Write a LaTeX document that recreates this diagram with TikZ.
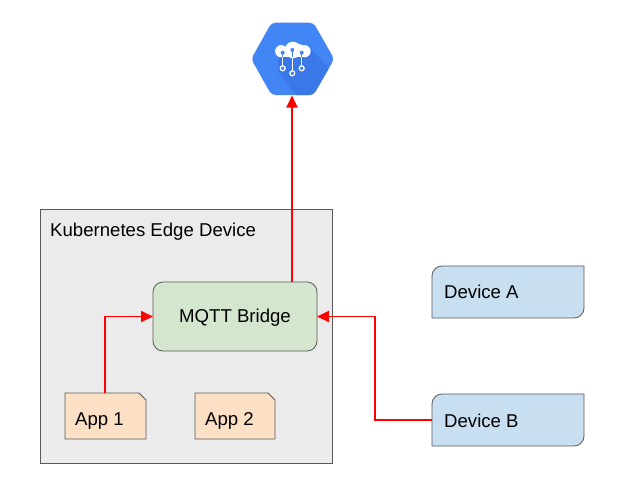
\documentclass[tikz,border=0pt]{standalone}
\usepackage{fontspec}
\setmainfont{Liberation Sans}
\usetikzlibrary{arrows.meta}
\definecolor{outerfill}{HTML}{EBEBEB}
\definecolor{edgegray}{HTML}{595959}
\definecolor{bridgefill}{HTML}{D5E6CF}
\definecolor{appfill}{HTML}{FCE0C5}
\definecolor{devfill}{HTML}{C8DEF1}
\definecolor{gblue}{HTML}{4285F4}
\definecolor{gshade}{HTML}{3B78E7}
\tikzset{
  x=1pt,y=-1pt,
  box/.style={inner sep=0pt,outer sep=0pt,minimum width=#1,anchor=north west},
  shapeline/.style={draw=edgegray,line width=0.8pt},
  lbl/.style={font=\fontsize{18.6}{22}\selectfont,text=black,inner sep=0pt,anchor=base west},
  wire/.style={draw=red,line width=1.9pt,-{Stealth[length=12pt,width=11pt,inset=0pt]}},
}
\newcommand{\DevShape}[1]{%
  \draw[shapeline,fill=devfill] (#1.south west) [rounded corners=10pt]-- (#1.north west) [sharp corners]-- (#1.north east)
    [rounded corners=10pt]-- (#1.south east) [sharp corners]-- (#1.south west) -- cycle;}
\newcommand{\AppShape}[1]{%
  \draw[shapeline,fill=appfill] (#1.north west) -- ([xshift=-7pt]#1.north east) -- ([yshift=-7pt]#1.north east)
    -- (#1.south east) -- (#1.south west) -- cycle;}
\begin{document}
\begin{tikzpicture}
\useasboundingbox (0,0) rectangle (622,488);
% outer box
\node[box=292pt,minimum height=254pt,draw=edgegray,line width=0.8pt,fill=outerfill] (edge) at (40,209) {};
\node[lbl] (edgelabel) at (50,236) {Kubernetes Edge Device};
% bridge
\node[box=164pt,minimum height=69pt,draw=edgegray,line width=0.8pt,fill=bridgefill,rounded corners=10pt] (bridge) at (153,282) {};
\node[lbl,anchor=center] (bridgelabel) at (235,317.5) {MQTT Bridge};
% apps
\node[box=81pt,minimum height=46pt] (app1) at (65,393) {};
\AppShape{app1}
\node[lbl] (app1label) at (75,425.5) {App 1};
\node[box=80pt,minimum height=46pt] (app2) at (195,393) {};
\AppShape{app2}
\node[lbl] (app2label) at (205,425.5) {App 2};
% devices
\node[box=152pt,minimum height=52pt] (deva) at (432,266) {};
\DevShape{deva}
\node[lbl] (devalabel) at (444,298.7) {Device A};
\node[box=152pt,minimum height=52pt] (devb) at (432,394) {};
\DevShape{devb}
\node[lbl] (devblabel) at (444,427) {Device B};
% cloud iot icon
\node[box=80pt,minimum height=73pt] (iot) at (252.7,22.5) {};
\begin{scope}
  \clip[rounded corners=4pt] (251.2,59) -- (271.5,22.7) -- (313.5,22.7) -- (334.2,59) -- (313.5,95) -- (271.5,95) -- cycle;
  \fill[gblue] (250,20) rectangle (335,98);
  \fill[gshade] (309,47) -- (340,80) -- (340,100) -- (300,100) -- (278,72) -- (278,58) -- cycle;
\end{scope}
\fill[white] (281.2,51.2) circle[radius=6.1];
\fill[white] (304.6,51.2) circle[radius=6.1];
\fill[white] (293,50) circle[radius=8.3];
\fill[white] (299.5,49) circle[radius=5];
\fill[white] (281.2,49) rectangle (304.6,57.3);
\foreach \px/\py/\qy in {282.7/52.7/68.3,292.3/50/73.3,301.7/52.7/68.3}{
  \draw[white,line width=1.2pt] (\px,57) -- (\px,\qy);
  \draw[gblue,line width=1.2pt] (\px,\py) -- (\px,57.3);
  \fill[gblue] (\px,\py) circle[radius=2];
  \fill[gblue] (\px,\qy) circle[radius=2.5];
  \draw[white,line width=1.2pt] (\px,\qy) circle[radius=2.5];
}
% connectors
\coordinate (jog) at (375,317);
\coordinate (upx) at (292,100);
\coordinate (appx) at (105,317);
\draw[wire] (bridge.north -| upx) -- (iot.south -| upx);
\draw[wire] (app1.north -| appx) |- (bridge.west);
\draw[wire] (devb.west) -- (devb.west -| jog) |- (bridge.east);
\end{tikzpicture}
\end{document}
